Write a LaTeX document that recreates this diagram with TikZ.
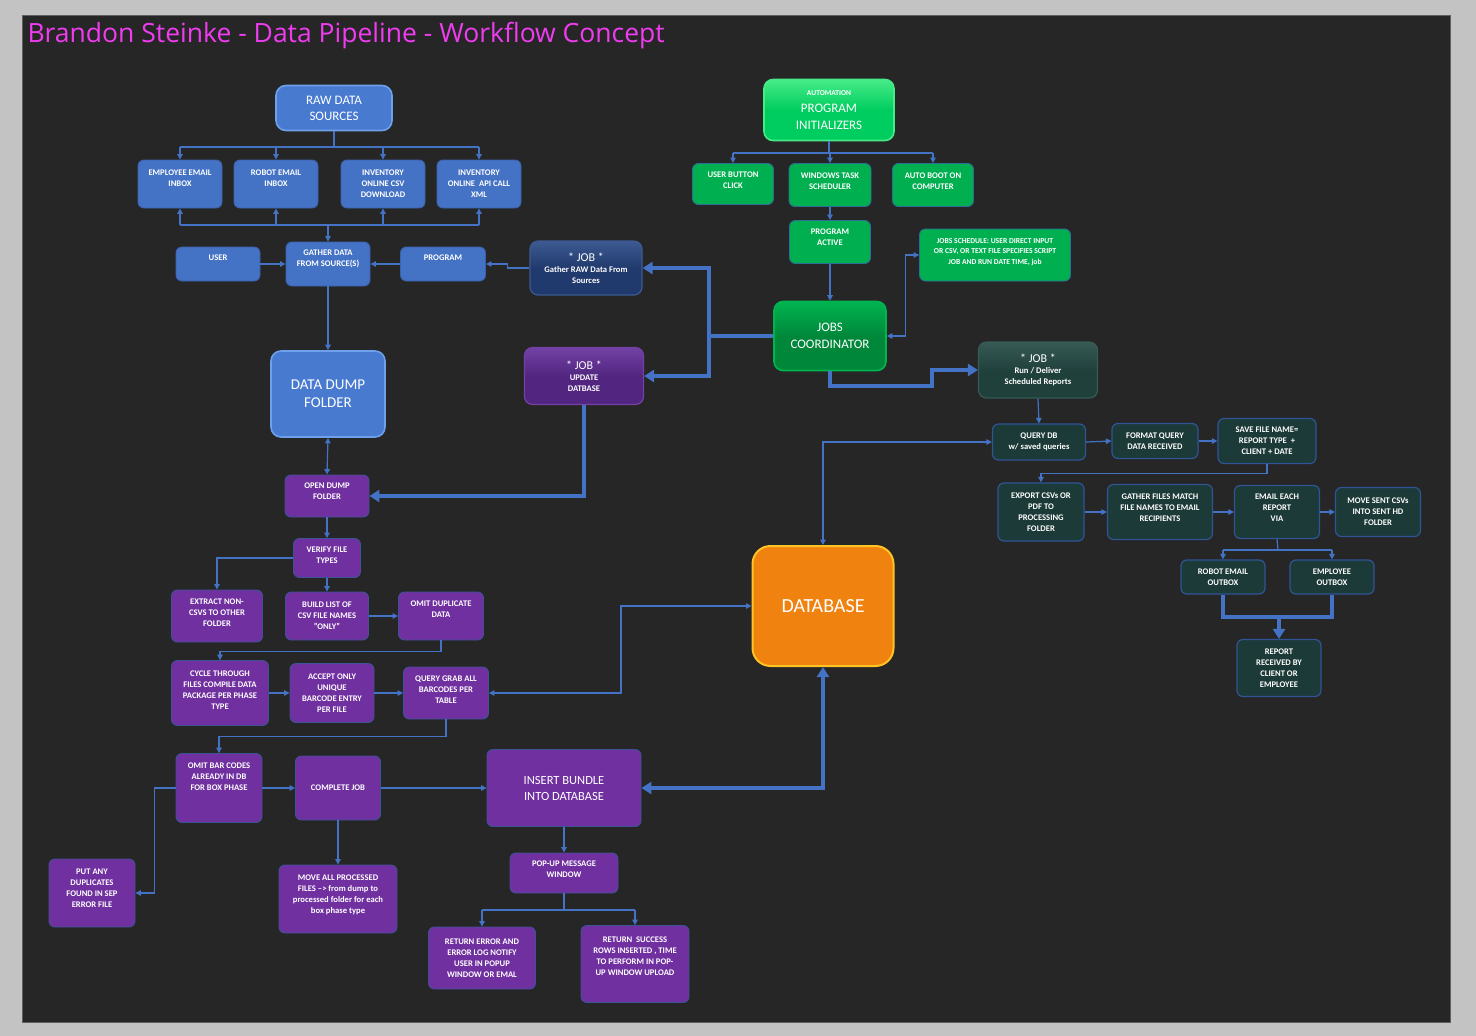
\documentclass[tikz,border=0pt]{standalone}
\usepackage{fontspec}
\setmainfont{Carlito}
\newfontfamily\titlefont{Open Sans}
\usetikzlibrary{arrows.meta,calc}

\definecolor{outergray}{RGB}{195,195,195}
\definecolor{panel}{RGB}{38,38,38}
\definecolor{panelline}{RGB}{95,95,95}
\definecolor{titlepink}{RGB}{240,60,240}
\definecolor{linkblue}{RGB}{68,114,196}
\definecolor{srcfill}{RGB}{68,114,196}
\definecolor{srcline}{RGB}{58,98,172}
\definecolor{bigfill}{RGB}{72,122,208}
\definecolor{bigline}{RGB}{110,160,235}
\definecolor{greenfill}{RGB}{0,176,80}
\definecolor{greenline}{RGB}{45,110,150}
\definecolor{autofill}{RGB}{0,205,95}
\definecolor{autoline}{RGB}{70,235,135}
\definecolor{coordfill}{RGB}{0,135,58}
\definecolor{coordline}{RGB}{0,180,80}
\definecolor{navyfill}{RGB}{33,58,110}
\definecolor{navyline}{RGB}{60,90,145}
\definecolor{jobpurple}{RGB}{82,38,128}
\definecolor{jobpurpleline}{RGB}{115,65,165}
\definecolor{purplefill}{RGB}{112,48,160}
\definecolor{purpleline}{RGB}{62,82,150}
\definecolor{tealjob}{RGB}{32,64,60}
\definecolor{tealjobline}{RGB}{55,90,85}
\definecolor{tealfill}{RGB}{28,58,56}
\definecolor{tealline}{RGB}{47,85,151}
\definecolor{dbfill}{RGB}{240,130,15}
\definecolor{dbline}{RGB}{255,195,35}

\tikzset{
  box/.style={draw, line width=0.9pt, rounded corners=6pt, align=center, text=white,
    inner sep=1pt, font=\bfseries\fontsize{8.6}{11}\selectfont},
  sz/.style 2 args={minimum width=#1, minimum height=#2},
  srcbox/.style={box, fill=srcfill, draw=srcline},
  bigblue/.style={box, fill=bigfill, draw=bigline, line width=1.6pt, rounded corners=10pt,
    font=\fontsize{13}{16}\selectfont},
  greenbox/.style={box, fill=greenfill, draw=greenline},
  autobox/.style={box, top color=autoline, bottom color=autofill, middle color=autofill,
    draw=autoline, line width=1.6pt, rounded corners=9pt, font=\fontsize{13}{17}\selectfont},
  coordbox/.style={box, top color=coordline, bottom color=coordfill, middle color=coordfill,
    draw=coordline, line width=1.6pt, rounded corners=9pt, font=\fontsize{13}{17}\selectfont},
  navyjob/.style={box, top color=navyline, bottom color=navyfill, middle color=navyfill,
    draw=navyline, line width=1.2pt, rounded corners=8pt},
  purplejob/.style={box, top color=jobpurpleline, bottom color=jobpurple, middle color=jobpurple,
    draw=jobpurpleline, line width=1.2pt, rounded corners=8pt},
  tealjobbox/.style={box, top color=tealjobline, bottom color=tealjob, middle color=tealjob,
    draw=tealjobline, line width=1.2pt, rounded corners=8pt},
  tealbox/.style={box, fill=tealfill, draw=tealline, line width=1.2pt},
  purplebox/.style={box, fill=purplefill, draw=purpleline},
  dbbox/.style={box, fill=dbfill, draw=dbline, line width=2pt, rounded corners=18pt,
    font=\fontsize{20}{24}\selectfont},
  link/.style={draw=linkblue, line width=1.2pt, >={Triangle[width=5.5pt,length=5.5pt]}},
  fat link/.style={draw=linkblue, line width=3.4pt, >={Triangle[width=12pt,length=10pt]}},
}
\newcommand{\jobhead}{{\mdseries\fontsize{12}{14}\selectfont * JOB *}}
% moves the text of a box up by #1 pt
\newcommand{\lift}[1]{\\[\dimexpr #1pt*2-11pt\relax]\mbox{}}

\begin{document}
\begin{tikzpicture}[x=1pt,y=-1pt]
  \fill[outergray] (0,0) rectangle (1476,1036);
  \filldraw[fill=panel, draw=panelline, line width=1pt] (22,15) rectangle (1450,1022);
  \node[anchor=west, text=titlepink, font=\titlefont\fontsize{26.5}{30}\selectfont] (title) at (24,36)
    {Brandon Steinke - Data Pipeline - Workflow Concept};

  % raw data sources
  \node[bigblue, sz={116}{45}] (raw) at (334,108) {RAW DATA\\SOURCES};
  \node[srcbox, sz={84}{48}] (empinbox) at (180,184) {EMPLOYEE EMAIL\\INBOX\lift{5.5}};
  \node[srcbox, sz={84}{48}] (robinbox) at (276,184) {ROBOT EMAIL\\INBOX\lift{5.5}};
  \node[srcbox, sz={84}{48}] (csvdl) at (383,184) {INVENTORY\\ONLINE CSV\\DOWNLOAD};
  \node[srcbox, sz={84}{48}] (apixml) at (479,184) {INVENTORY\\ONLINE\ \ API CALL\\XML};
  \node[srcbox, sz={84}{34}] (user) at (218,264) {USER\lift{6}};
  \node[srcbox, sz={84}{44}] (gather) at (328,264) {GATHER DATA\\FROM SOURCE(S)\lift{6}};
  \node[srcbox, sz={85}{34}] (program) at (443,264) {PROGRAM\lift{6}};
  \node[navyjob, sz={112}{54}] (jobgather) at (586,268) {\jobhead\\Gather RAW Data From\\Sources};
  \node[bigblue, sz={114}{86}, font=\fontsize{15}{18}\selectfont] (dump) at (328,394) {DATA DUMP\\FOLDER};

  \coordinate (rawbus) at (334,147);
  \coordinate (gbus) at (328,225);
  \draw[link] (raw.south) -- (rawbus);
  \draw[link] (rawbus -| empinbox) -- (rawbus -| apixml);
  \draw[link] (gbus -| empinbox) -- (gbus -| apixml);
  \draw[link,->] (gbus) -- (gather.north);
  \foreach \src in {empinbox,robinbox,csvdl,apixml}{
    \draw[link,->] (rawbus -| \src) -- (\src.north);
    \draw[link,->] (gbus -| \src) -- (\src.south);
  }
  \draw[link,->] (user.east) -- (gather.west);
  \draw[link,->] (program.west) -- (gather.east);
  \draw[link,->] (jobgather.west) -- ++(-22,0) |- (program.east);
  \draw[link,->] (gather.south) -- (dump.north);

  % automation
  \node[autobox, sz={130}{61}] (auto) at (829,110)
    {{\bfseries\fontsize{7.5}{9}\selectfont AUTOMATION}\\PROGRAM\\INITIALIZERS};
  \node[greenbox, sz={81}{41}] (userclick) at (733,184) {USER BUTTON\\CLICK\lift{4}};
  \node[greenbox, sz={82}{43}] (winsched) at (830,185) {WINDOWS TASK\\SCHEDULER\lift{4}};
  \node[greenbox, sz={81}{43}] (autoboot) at (933,185) {AUTO BOOT ON\\COMPUTER\lift{4}};
  \node[greenbox, sz={81}{43}] (progactive) at (830,242) {PROGRAM\\ACTIVE\lift{5}};
  \node[greenbox, sz={151}{52}, font=\bfseries\fontsize{7.6}{10.5}\selectfont] (schedule) at (995,255)
    {JOBS SCHEDULE: USER DIRECT INPUT\\OR CSV, OR TEXT FILE SPECIFIES SCRIPT\\JOB AND RUN DATE TIME, job\lift{4}};
  \node[coordbox, sz={112}{69}] (coord) at (830,336) {JOBS\\COORDINATOR};

  \coordinate (abus) at (829,153);
  \draw[link] (auto.south) -- (abus);
  \draw[link] (abus -| userclick) -- (abus -| autoboot);
  \foreach \init in {userclick,winsched,autoboot}
    \draw[link,->] (abus -| \init) -- (\init.north);
  \draw[link,->] (winsched.south) -- (progactive.north);
  \draw[link,->] (progactive.south) -- (coord.north);
  \draw[link,<->] (coord.east) -- ++(19,0) |- (schedule.west);

  % jobs
  \node[purplejob, sz={119}{57}] (jobupdate) at (584,376) {\jobhead\\UPDATE\\DATBASE};
  \node[tealjobbox, sz={119}{56}] (jobrun) at (1038,370) {\jobhead\\Run / Deliver\\Scheduled Reports};

  \coordinate (cleft) at (709,336);
  \draw[fat link] (coord.west) -- (cleft);
  \draw[fat link,->] (cleft) |- (jobgather.east);
  \draw[fat link,->] (cleft) |- (jobupdate.east);
  \draw[fat link,->] (coord.south) |- (932,386) |- (jobrun.west);

  % reports
  \node[tealbox, sz={93}{36}] (querydb) at (1039,442) {QUERY DB\\w/ saved queries};
  \node[tealbox, sz={86}{35}] (format) at (1155,441) {FORMAT QUERY\\DATA RECEIVED};
  \node[tealbox, sz={98}{45}] (savename) at (1267,441) {SAVE FILE NAME=\\REPORT TYPE\ \ +\\CLIENT + DATE};
  \node[tealbox, sz={86}{58}] (export) at (1041,512) {EXPORT CSVs OR\\PDF TO\\PROCESSING\\FOLDER};
  \node[tealbox, sz={105}{55}] (matchfiles) at (1160,512) {GATHER FILES MATCH\\FILE NAMES TO EMAIL\\RECIPIENTS\lift{4}};
  \node[tealbox, sz={85}{53}] (emaileach) at (1277,512) {EMAIL EACH\\REPORT\\VIA\lift{4}};
  \node[tealbox, sz={85}{49}] (movesent) at (1378,512) {MOVE SENT CSVs\\INTO SENT HD\\FOLDER};
  \node[tealbox, sz={84}{34}] (robout) at (1223,577) {ROBOT EMAIL\\OUTBOX};
  \node[tealbox, sz={84}{34}] (empout) at (1332,577) {EMPLOYEE\\OUTBOX};
  \node[tealbox, sz={84}{57}] (report) at (1279,668) {REPORT\\RECEIVED BY\\CLIENT OR\\EMPLOYEE};

  \draw[link,->] (jobrun.south) -- (querydb.north);
  \draw[link,->] (querydb.east) -- (format.west);
  \draw[link,->] (format.east) -- (savename.west);
  \draw[link,->] (savename.south) -- ++(0,9) -| (export.north);
  \draw[link,->] (export.east) -- (matchfiles.west);
  \draw[link,->] (matchfiles.east) -- (emaileach.west);
  \draw[link,->] (emaileach.east) -- (movesent.west);
  \coordinate (ebus) at (1278,550);
  \draw[link] (emaileach.south) -- (ebus);
  \draw[link] (ebus -| robout) -- (ebus -| empout);
  \draw[link,->] (ebus -| robout) -- (robout.north);
  \draw[link,->] (ebus -| empout) -- (empout.north);
  \coordinate (rjoin) at (1279,617);
  \draw[fat link] (robout.south) |- (rjoin) -| (empout.south);
  \draw[fat link,->] (rjoin) -- (report.north);

  % database
  \node[dbbox, sz={141}{120}] (database) at (823,606) {DATABASE};
  \draw[link,<->] (database.north) |- (querydb.west);

  % processing steps
  \node[purplebox, sz={84}{42}] (opendump) at (327,496) {OPEN DUMP\\FOLDER\lift{4.5}};
  \node[purplebox, sz={67}{39}] (verify) at (327,558) {VERIFY FILE\\TYPES\lift{3}};
  \node[purplebox, sz={91}{52}] (extract) at (217,616) {EXTRACT NON-\\CSVS TO OTHER\\FOLDER\lift{3}};
  \node[purplebox, sz={83}{48}] (buildlist) at (327,616) {BUILD LIST OF\\CSV FILE NAMES\\"ONLY"};
  \node[purplebox, sz={85}{48}] (omitdup) at (441,616) {OMIT DUPLICATE\\DATA\lift{6.5}};
  \node[purplebox, sz={97}{65}] (cycle) at (220,693) {CYCLE THROUGH\\FILES COMPILE DATA\\PACKAGE PER PHASE\\TYPE\lift{3}};
  \node[purplebox, sz={84}{59}] (accept) at (332,693) {ACCEPT ONLY\\UNIQUE\\BARCODE ENTRY\\PER FILE};
  \node[purplebox, sz={85}{52}] (querygrab) at (446,693) {QUERY GRAB ALL\\BARCODES PER\\TABLE\lift{3}};
  \node[purplebox, sz={86}{69}] (omitbar) at (219,788) {OMIT BAR CODES\\ALREADY IN DB\\FOR BOX PHASE\lift{11}};
  \node[purplebox, sz={85}{64}] (complete) at (338,788) {COMPLETE JOB};
  \node[purplebox, sz={86}{68}] (putany) at (92,893) {PUT ANY\\DUPLICATES\\FOUND IN SEP\\ERROR FILE\lift{5}};
  \node[purplebox, sz={118}{68}] (moveall) at (338,899)
    {MOVE ALL PROCESSED\\FILES --> from dump to\\processed folder for each\\box phase type\lift{4.5}};
  \node[purplebox, sz={154}{77}, font=\fontsize{12.5}{16}\selectfont] (insert) at (564,788) {INSERT BUNDLE\\INTO DATABASE};
  \node[purplebox, sz={108}{40}] (popup) at (564,873) {POP-UP MESSAGE\\WINDOW\lift{3.5}};
  \node[purplebox, sz={107}{62}] (reterr) at (482,958) {RETURN ERROR AND\\ERROR LOG NOTIFY\\USER IN POPUP\\WINDOW OR EMAL};
  \node[purplebox, sz={108}{77}] (retok) at (635,964) {RETURN\ \ SUCCESS\\ROWS INSERTED , TIME\\TO PERFORM IN POP-\\UP WINDOW UPLOAD\lift{8}};

  \draw[link,<->] (dump.south) -- (opendump.north);
  \draw[fat link,->] (jobupdate.south) |- (opendump.east);
  \draw[link,->] (opendump.south) -- (verify.north);
  \draw[link,->] (verify.west) -| (extract.north);
  \draw[link,->] (verify.south) -- (buildlist.north);
  \draw[link,->] (buildlist.east) -- (omitdup.west);
  \draw[link,->] (omitdup.south) -- ++(0,11) -| (cycle.north);
  \draw[link,->] (cycle.east) -- (accept.west);
  \draw[link,->] (accept.east) -- (querygrab.west);
  \draw[link,<->] (database.west) -- (621,606) |- (querygrab.east);
  \draw[link,->] (querygrab.south) -- ++(0,17) -| (omitbar.north);
  \draw[link,->] (omitbar.west) -- ++(-21,0) |- (putany.east);
  \draw[link,->] (omitbar.east) -- (complete.west);
  \draw[link,->] (complete.east) -- (insert.west);
  \draw[link,->] (complete.south) -- (moveall.north);
  \draw[fat link,<->] (insert.east) -| (database.south);
  \draw[link,->] (insert.south) -- (popup.north);
  \coordinate (pbus) at (564,910);
  \draw[link] (popup.south) -- (pbus);
  \draw[link] (pbus -| reterr) -- (pbus -| retok);
  \draw[link,->] (pbus -| reterr) -- (reterr.north);
  \draw[link,->] (pbus -| retok) -- (retok.north);
\end{tikzpicture}
\end{document}
